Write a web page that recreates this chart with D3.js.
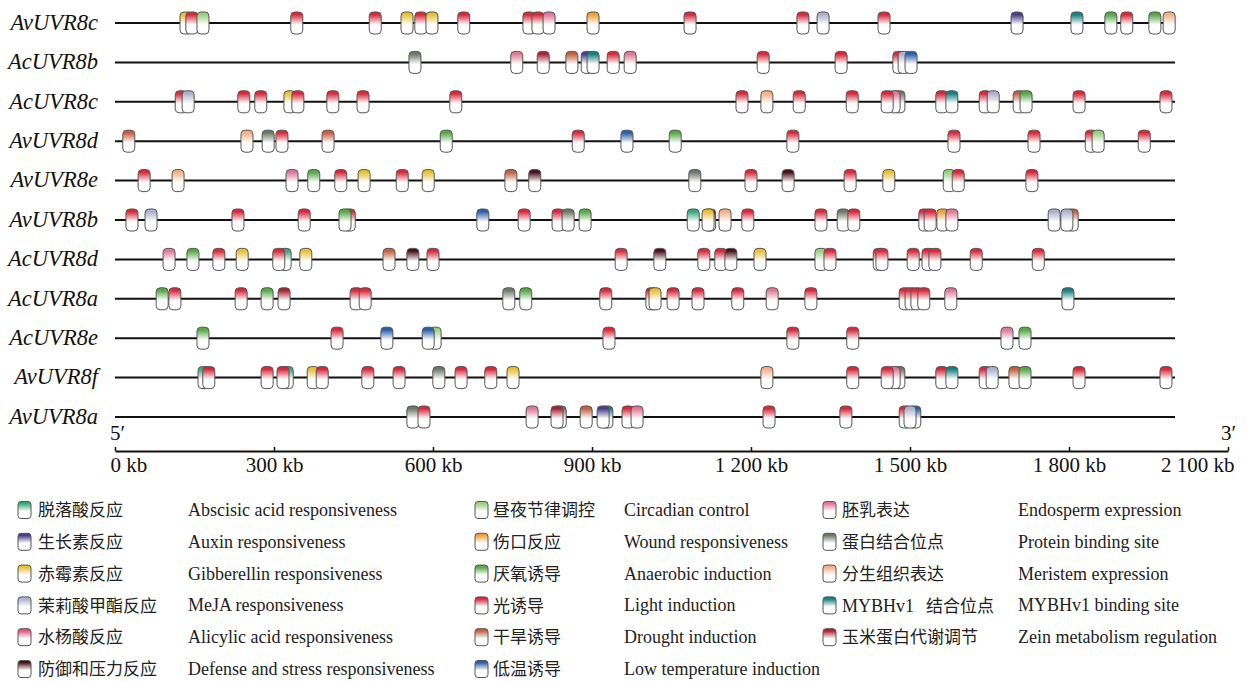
<!DOCTYPE html>
<html>
<head>
<meta charset="utf-8">
<script src="https://cdn.jsdelivr.net/npm/d3@7"></script>
<style>
  body { margin: 0; background: #fff; }
  svg { display: block; }
</style>
</head>
<body>
<svg id="chart" width="1247" height="681"></svg>
<script>
// Gene promoters, top to bottom
const genes = ["AvUVR8c", "AcUVR8b", "AcUVR8c", "AvUVR8d", "AvUVR8e", "AvUVR8b",
               "AcUVR8d", "AcUVR8a", "AcUVR8e", "AvUVR8f", "AvUVR8a"];

// cis-acting element types (legend order: column by column)
const elementKeys = ["ABA", "AUX", "GA", "MEJA", "SA", "DEF",
                     "CIR", "WND", "ANA", "LIG", "DRO", "LTR",
                     "END", "PRO", "MER", "MYB", "ZEI"];
const elementZh = ["脱落酸反应", "生长素反应", "赤霉素反应", "茉莉酸甲酯反应", "水杨酸反应", "防御和压力反应",
                   "昼夜节律调控", "伤口反应", "厌氧诱导", "光诱导", "干旱诱导", "低温诱导",
                   "胚乳表达", "蛋白结合位点", "分生组织表达", "MYBHv1　结合位点", "玉米蛋白代谢调节"];
const elementEn = ["Abscisic acid responsiveness", "Auxin responsiveness", "Gibberellin responsiveness",
                   "MeJA responsiveness", "Alicylic acid responsiveness", "Defense and stress responsiveness",
                   "Circadian control", "Wound responsiveness", "Anaerobic induction",
                   "Light induction", "Drought induction", "Low temperature induction",
                   "Endosperm expression", "Protein binding site", "Meristem expression",
                   "MYBHv1 binding site", "Zein metabolism regulation"];
const elementColors = ["#35a87c", "#4b3b8c", "#e8c035", "#aeb0cc", "#e2587c", "#4a1018",
                       "#9ad07e", "#f0a038", "#55a845", "#d8283a", "#c2603f", "#2a5eaa",
                       "#e07898", "#6e7868", "#f4b086", "#16807f", "#aa2232"];

// Axis
const tickValues = [0, 300, 600, 900, 1200, 1500, 1800, 2100];
const axisMax = 2100;
const promoterLength = 2000;

// Sites per promoter: [element, position]; listed in drawing order
const sitesAvUVR8c = [["GA",134],["LIG",145],["CIR",166],["LIG",343],["LIG",491],["GA",551],["LIG",577],
  ["GA",598],["LIG",658],["LIG",781],["LIG",798],["END",819],["WND",902],["LIG",1085],["LIG",1298],
  ["MEJA",1336],["LIG",1451],["AUX",1702],["MYB",1815],["ANA",1879],["LIG",1909],["ANA",1962],["MER",1989]];
const sitesAcUVR8b = [["PRO",566],["END",758],["ZEI",808],["DRO",862],["AUX",891],["MYB",902],["LIG",940],
  ["END",972],["LIG",1223],["LIG",1370],["LIG",1479],["MEJA",1489],["LTR",1502]];
const sitesAcUVR8c = [["LIG",125],["MEJA",138],["LIG",243],["LIG",275],["GA",330],["LIG",345],["LIG",411],
  ["LIG",468],["LIG",643],["LIG",1183],["MER",1230],["LIG",1291],["LIG",1391],["PRO",1479],["END",1470],
  ["LIG",1457],["LIG",1560],["MYB",1579],["LIG",1642],["MEJA",1657],["DRO",1706],["ANA",1719],
  ["LIG",1819],["LIG",1983]];
const sitesAvUVR8d = [["DRO",26],["MER",249],["PRO",289],["LIG",315],["DRO",402],["ANA",625],["LIG",874],
  ["LTR",966],["ANA",1057],["LIG",1279],["LIG",1583],["LIG",1734],["LIG",1842],["CIR",1855],["LIG",1942]];
const sitesAvUVR8e = [["LIG",55],["MER",119],["END",334],["ANA",375],["LIG",426],["GA",470],["LIG",542],
  ["GA",591],["DRO",747],["DEF",792],["PRO",1094],["LIG",1200],["DEF",1270],["LIG",1387],["GA",1460],
  ["CIR",1574],["LIG",1591],["LIG",1730]];
const sitesAvUVR8b = [["LIG",32],["MEJA",68],["LIG",232],["LIG",357],["LIG",442],["ANA",434],["LTR",694],
  ["LIG",772],["LIG",836],["PRO",855],["ANA",887],["DEF",1122],["ABA",1091],["GA",1119],["MER",1151],
  ["LIG",1194],["LIG",1332],["PRO",1374],["LIG",1394],["LIG",1528],["LIG",1538],["WND",1562],["END",1579],
  ["DRO",1806],["MEJA",1772],["MEJA",1796]];
const sitesAcUVR8d = [["END",102],["ANA",147],["LIG",196],["GA",240],["ABA",321],["LIG",309],["GA",360],
  ["DRO",517],["DEF",562],["LIG",600],["LIG",955],["DEF",1028],["LIG",1111],["LIG",1143],["DEF",1162],
  ["GA",1217],["CIR",1332],["LIG",1349],["LIG",1442],["LIG",1447],["LIG",1506],["LIG",1534],["LIG",1547],
  ["LIG",1625],["LIG",1742]];
const sitesAcUVR8a = [["ANA",89],["LIG",113],["LIG",238],["ANA",287],["ZEI",319],["LIG",455],["LIG",472],
  ["PRO",743],["ANA",775],["LIG",926],["LIG",1013],["GA",1019],["LIG",1053],["LIG",1100],["LIG",1175],
  ["END",1240],["LIG",1313],["LIG",1491],["LIG",1502],["LIG",1513],["LIG",1526],["END",1577],["MYB",1798]];
const sitesAcUVR8e = [["ANA",166],["LIG",419],["LTR",513],["CIR",604],["LTR",591],["LIG",932],["LIG",1279],
  ["LIG",1392],["END",1683],["ANA",1717]];
const sitesAvUVR8f = [["ABA",168],["LIG",177],["LIG",287],["ABA",325],["LIG",317],["GA",374],["LIG",391],
  ["LIG",477],["LIG",536],["PRO",611],["LIG",653],["LIG",709],["GA",751],["MER",1230],["LIG",1392],
  ["PRO",1479],["END",1470],["LIG",1457],["LIG",1560],["MYB",1579],["LIG",1642],["MEJA",1655],
  ["DRO",1698],["ANA",1717],["LIG",1819],["LIG",1983]];
const sitesAvUVR8a = [["PRO",562],["LIG",583],["END",787],["PRO",840],["ZEI",834],["DRO",889],["MYB",928],
  ["AUX",921],["LIG",968],["END",985],["LIG",1234],["LIG",1379],["LIG",1491],["LTR",1509],["MEJA",1500]];

const sitesByGene = {
  AvUVR8c: sitesAvUVR8c, AcUVR8b: sitesAcUVR8b, AcUVR8c: sitesAcUVR8c, AvUVR8d: sitesAvUVR8d,
  AvUVR8e: sitesAvUVR8e, AvUVR8b: sitesAvUVR8b, AcUVR8d: sitesAcUVR8d, AcUVR8a: sitesAcUVR8a,
  AcUVR8e: sitesAcUVR8e, AvUVR8f: sitesAvUVR8f, AvUVR8a: sitesAvUVR8a
};

const colorOf = d3.scaleOrdinal().domain(elementKeys).range(elementColors);

const svg = d3.select("#chart");
const serif = "'Liberation Serif', 'Times New Roman', serif";
const cjk = "'Noto Sans CJK SC', 'Noto Sans', sans-serif";

// Vertical gradients: element colour at the top fading to white
const defs = svg.append("defs");
elementKeys.forEach(k => {
  const g = defs.append("linearGradient")
    .attr("id", "grad-" + k)
    .attr("x1", 0).attr("y1", 0).attr("x2", 0).attr("y2", 1);
  g.append("stop").attr("offset", "0%").attr("stop-color", colorOf(k));
  g.append("stop").attr("offset", "12%").attr("stop-color", colorOf(k));
  g.append("stop").attr("offset", "58%").attr("stop-color", "#ffffff");
  g.append("stop").attr("offset", "100%").attr("stop-color", "#ffffff");
});

const x = d3.scaleLinear().domain([0, axisMax]).range([115, 1228]);
const y = d3.scalePoint().domain(genes).range([23, 417]);

const boxW = 12, boxH = 22;

// Promoter rows
const rows = svg.append("g").selectAll("g.row")
  .data(genes)
  .join("g")
  .attr("class", "row")
  .attr("transform", d => `translate(0,${y(d)})`);

rows.append("text")
  .attr("x", 98)
  .attr("y", 0)
  .attr("dy", "0.3em")
  .attr("text-anchor", "end")
  .attr("font-family", serif)
  .attr("font-style", "italic")
  .attr("font-size", 22.5)
  .attr("fill", "#111")
  .text(d => d);

rows.append("line")
  .attr("x1", x(0))
  .attr("x2", x(promoterLength))
  .attr("stroke", "#111")
  .attr("stroke-width", 2);

rows.selectAll("rect.site")
  .data(d => sitesByGene[d])
  .join("rect")
  .attr("class", "site")
  .attr("x", d => x(d[1]) - boxW / 2)
  .attr("y", -boxH / 2)
  .attr("width", boxW)
  .attr("height", boxH)
  .attr("rx", 4)
  .attr("fill", d => `url(#grad-${d[0]})`)
  .attr("stroke", "#555")
  .attr("stroke-width", 1);

// Scale axis
const axis = d3.axisBottom(x)
  .tickValues(tickValues)
  .tickSizeInner(-4)
  .tickSizeOuter(0)
  .tickPadding(6)
  .tickFormat(d => d3.format(",")(d).replace(",", " ") + " kb");

const axisG = svg.append("g")
  .attr("transform", "translate(0,451)")
  .call(axis);
axisG.select(".domain").attr("stroke", "#111").attr("stroke-width", 2);
axisG.selectAll(".tick line").attr("stroke", "#111").attr("stroke-width", 1.5);
axisG.selectAll(".tick text")
  .attr("font-family", serif)
  .attr("font-size", 21)
  .attr("fill", "#111");
// end labels sit inside the axis span
axisG.selectAll(".tick text")
  .filter(d => d === tickValues[0])
  .attr("text-anchor", "start")
  .attr("x", -5);
axisG.selectAll(".tick text")
  .filter(d => d === tickValues[tickValues.length - 1])
  .attr("text-anchor", "end")
  .attr("x", 6);

svg.append("text").attr("x", 110).attr("y", 440)
  .attr("font-family", serif).attr("font-size", 21).attr("fill", "#111").text("5′");
svg.append("text").attr("x", 1221).attr("y", 440)
  .attr("font-family", serif).attr("font-size", 21).attr("fill", "#111").text("3′");

// Legend: three columns of six
const legendCols = [
  { icon: 18, zh: 38, en: 188 },
  { icon: 475, zh: 493, en: 624 },
  { icon: 823, zh: 842, en: 1018 }
];
const legendItems = elementKeys.map((k, i) => ({ k, zh: elementZh[i], en: elementEn[i], col: Math.floor(i / 6), row: i % 6 }));

const leg = svg.append("g").selectAll("g.item")
  .data(legendItems)
  .join("g")
  .attr("class", "item")
  .attr("transform", d => `translate(0,${510 + d.row * 31.8})`);

leg.append("rect")
  .attr("x", d => legendCols[d.col].icon)
  .attr("y", -8.5)
  .attr("width", 13)
  .attr("height", 17)
  .attr("rx", 3)
  .attr("fill", d => `url(#grad-${d.k})`)
  .attr("stroke", "#555")
  .attr("stroke-width", 1);

leg.each(function(d) {
  const g = d3.select(this);
  const t = g.append("text")
    .attr("x", legendCols[d.col].zh)
    .attr("y", 0)
    .attr("dy", "0.36em")
    .attr("font-size", 17)
    .attr("fill", "#222");
  if (d.k === "MYB") {
    t.append("tspan").attr("font-family", serif).attr("font-size", 18).text("MYBHv1");
    t.append("tspan").attr("x", 926).attr("font-family", cjk).text("结合位点");
  } else {
    t.attr("font-family", cjk).text(d.zh);
  }
  g.append("text")
    .attr("x", legendCols[d.col].en)
    .attr("y", 0)
    .attr("dy", "0.33em")
    .attr("font-family", serif)
    .attr("font-size", 18)
    .attr("fill", "#222")
    .text(d.en);
});
</script>
</body>
</html>
